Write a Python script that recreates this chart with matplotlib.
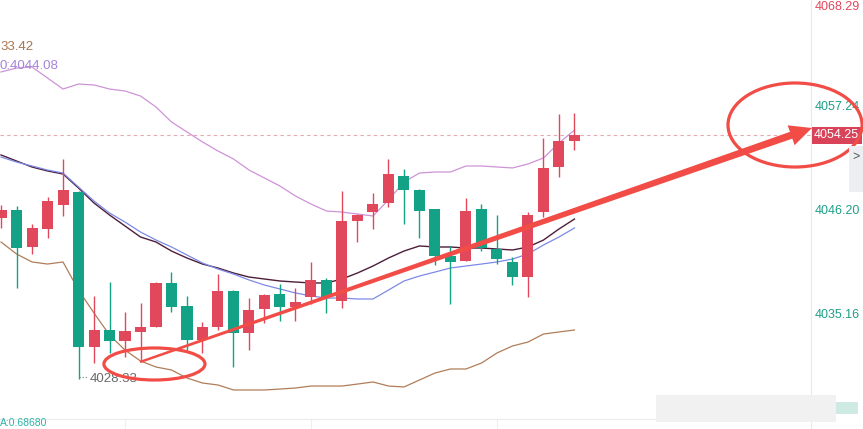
import numpy as np
import matplotlib
matplotlib.use("Agg")
import matplotlib.pyplot as plt
from matplotlib.patches import Ellipse, Polygon, Rectangle
from matplotlib.lines import Line2D
from matplotlib.transforms import IdentityTransform, blended_transform_factory

plt.rcParams['font.family'] = ['Liberation Sans', 'DejaVu Sans']

# candle data, red = up, green = down
opens = [4045.46, 4046.31, 4042.38, 4044.29, 4046.84, 4048.22, 4031.76, 4033.57, 4032.40, 4033.36,
         4033.89, 4038.56, 4036.12, 4032.51, 4033.89, 4037.71, 4033.25, 4035.80, 4037.39, 4036.01,
         4037.07, 4038.88, 4036.65, 4045.14, 4046.09, 4047.05, 4049.92, 4048.43, 4046.41, 4041.42,
         4040.89, 4046.41, 4042.17, 4040.79, 4039.19, 4046.09, 4050.87, 4053.63]
highs = [4046.84, 4046.73, 4044.82, 4047.69, 4051.72, 4048.30, 4037.18, 4038.66, 4035.48, 4036.43,
         4038.66, 4039.72, 4037.18, 4034.42, 4039.51, 4037.80, 4036.96, 4037.35, 4038.45, 4038.03,
         4040.79, 4039.09, 4048.32, 4045.85, 4048.11, 4051.72, 4050.66, 4048.50, 4046.45, 4042.49,
         4047.58, 4046.94, 4045.78, 4041.32, 4046.09, 4053.95, 4056.50, 4056.60]
lows = [4044.40, 4038.03, 4041.64, 4043.33, 4045.67, 4028.33, 4030.06, 4031.13, 4030.70, 4030.28,
        4033.89, 4035.48, 4031.44, 4031.13, 4033.57, 4029.64, 4031.44, 4034.31, 4034.52, 4034.52,
        4036.33, 4035.37, 4035.90, 4042.91, 4044.29, 4046.62, 4044.82, 4043.33, 4040.47, 4036.33,
        4040.85, 4041.95, 4040.57, 4038.34, 4037.07, 4045.56, 4049.81, 4052.68]
closes = [4046.31, 4042.27, 4044.40, 4047.26, 4048.43, 4031.76, 4033.57, 4032.40, 4033.46, 4033.89,
          4038.56, 4036.01, 4032.51, 4033.89, 4037.71, 4033.25, 4035.69, 4037.28, 4036.01, 4036.54,
          4038.88, 4037.07, 4045.14, 4045.78, 4046.94, 4050.13, 4048.43, 4046.20, 4041.42, 4040.79,
          4046.20, 4042.27, 4041.10, 4039.19, 4045.78, 4050.77, 4053.63, 4054.25]

# indicator lines
upper_band = [4060.96, 4061.38, 4061.49, 4060.32, 4059.15, 4059.68, 4059.58, 4059.15, 4058.94, 4058.41,
              4057.24, 4055.65, 4054.59, 4053.53, 4052.57, 4051.72, 4050.55, 4049.70, 4048.85, 4047.79,
              4046.94, 4046.20, 4046.09, 4045.88, 4045.67, 4047.37, 4049.28, 4050.23, 4050.34, 4050.34,
              4050.98, 4050.98, 4050.87, 4050.77, 4051.19, 4051.83, 4053.42, 4054.80]
lower_band = [4042.91, 4041.64, 4040.79, 4040.57, 4040.79, 4037.81, 4035.37, 4033.04, 4031.44, 4030.28,
              4029.64, 4029.32, 4028.47, 4027.94, 4027.73, 4027.20, 4027.20, 4027.20, 4027.30, 4027.41,
              4027.62, 4027.62, 4027.62, 4027.83, 4028.05, 4027.62, 4027.52, 4028.26, 4029.00, 4029.43,
              4029.43, 4030.06, 4031.13, 4031.87, 4032.29, 4033.14, 4033.36, 4033.57]
ma_dark = [4052.15, 4051.51, 4050.87, 4050.45, 4050.13, 4048.64, 4047.05, 4045.78, 4044.61, 4043.44,
           4042.91, 4041.95, 4041.21, 4040.57, 4040.15, 4039.62, 4039.19, 4038.98, 4038.77, 4038.66,
           4038.56, 4038.56, 4038.98, 4039.62, 4040.36, 4041.21, 4041.95, 4042.49, 4042.38, 4042.38,
           4042.27, 4042.27, 4042.17, 4042.06, 4042.38, 4043.12, 4044.29, 4045.35]
ma_blue = [4051.93, 4051.40, 4050.98, 4050.55, 4050.23, 4048.75, 4047.26, 4045.99, 4045.03, 4043.97,
           4043.12, 4042.38, 4041.53, 4040.68, 4040.04, 4039.51, 4038.88, 4038.34, 4037.92, 4037.50,
           4037.18, 4036.96, 4036.96, 4036.86, 4036.86, 4037.81, 4038.77, 4039.30, 4039.72, 4040.15,
           4040.36, 4040.57, 4040.79, 4041.10, 4041.64, 4042.59, 4043.44, 4044.40]

price_ticks = [4068.29, 4057.24, 4046.20, 4035.16]
last_price = 4054.25
low_label = "4028.33"

RED = '#e2485c'
GREEN = '#13a286'
MARK = '#f24c47'
FS = 9

W, H = 863, 429
fig = plt.figure(figsize=(W / 100, H / 100), dpi=100)
fig.patch.set_facecolor('white')


def fx(x):
    return x / W


def fy(y):
    return 1 - y / H


ax = fig.add_axes([0, fy(419), fx(811), 419 / H])
ax.set_xlim(-0.065, 52.26)
ax.set_ylim(4024.12, 4068.60)
ax.axis('off')

x = np.arange(len(opens))
o = np.array(opens)
c = np.array(closes)
up = c >= o
cols = [RED if u else GREEN for u in up]

# indicator lines
ax.plot(x, upper_band, color='#cf93d8', lw=0.9, zorder=2)
ax.plot(x, lower_band, color='#b07d5a', lw=0.9, zorder=2)
ax.plot(x, ma_dark, color='#4d1d3a', lw=1.0, zorder=2)
ax.plot(x, ma_blue, color='#7c8ae6', lw=0.9, zorder=2)

# candles
ax.vlines(x, lows, highs, colors=cols, lw=1.0, zorder=3)
bottoms = np.minimum(o, c)
heights = np.maximum(np.abs(c - o), 0.12)
ax.bar(x, heights, bottom=bottoms, width=0.71, color=cols, zorder=4)

# last price dashed line and label
ax.axhline(last_price, color='#e8a6b0', lw=0.8, ls=(0, (3, 3)), zorder=1)
tr = blended_transform_factory(ax.transAxes, ax.transData)
ax.text(1 + 3 / 811, last_price, f"{last_price:.2f}", transform=tr, color='white', fontsize=FS,
        va='center', ha='left', clip_on=False,
        bbox=dict(boxstyle='square,pad=0.2', fc='#d8435a', ec='none'))

# right price labels
for v in price_ticks:
    if v > 4068:
        ax.text(1 + 4 / 811, 1 - 1 / 419, f"{v:.2f}", transform=ax.transAxes, color=RED,
                fontsize=FS, va='top', ha='left', clip_on=False)
    else:
        ax.text(1 + 4 / 811, v, f"{v:.2f}", transform=tr, color='#1d9f86',
                fontsize=FS, va='center', ha='left', clip_on=False)

# lowest price marker
i_low = int(np.argmin(lows))
ax.plot([i_low + 0.05, i_low + 0.6], [lows[i_low] + 0.25] * 2, ls=(0, (1, 1.5)), color='#888888',
        lw=0.9, zorder=3)
ax.text(i_low + 0.72, lows[i_low], low_label, color='#6a6a6a', fontsize=FS + 0.5, va='center', ha='left')

# legend-ish texts top left (partly off the left edge in the original)
fig.text(0, fy(47), "33.42", color='#a97650', fontsize=FS + 0.5, ha='left', va='center')
fig.text(0, fy(66), "0:4044.08", color='#a584d8', fontsize=FS + 0.5, ha='left', va='center')

# ellipses
ax.add_patch(Ellipse((9.9, 4029.96), 6.52, 3.40, fill=False, ec=MARK, lw=2.3, zorder=8, clip_on=False))
ax.add_patch(Ellipse((51.23, 4055.33), 8.65, 8.92, fill=False, ec=MARK, lw=2.3, zorder=8, clip_on=False))

# tapered arrow, drawn in display pixels
p0 = ax.transData.transform((8.97, 4030.17))
p1 = ax.transData.transform((52.32, 4055.01))
d = p1 - p0
u = d / np.hypot(*d)
n = np.array([-u[1], u[0]])
base = p1 - u * 22
pts = [p0 + n * 1.2, base + n * 3.6, base + n * 10.5, p1,
       base - n * 10.5, base - n * 3.6, p0 - n * 1.2]
fig.add_artist(Polygon(pts, closed=True, transform=IdentityTransform(), fc=MARK, ec='none', zorder=10))

# panel separators
fig.add_artist(Line2D([fx(811), fx(811)], [0, 1], color='#e9e9ec', lw=0.8, zorder=0))
fig.add_artist(Line2D([0, fx(811)], [fy(419), fy(419)], color='#ececef', lw=0.8, zorder=0))
for gx in [125, 311, 497]:
    fig.add_artist(Line2D([fx(gx), fx(gx)], [0, fy(419)], color='#eeeeee', lw=0.8, zorder=0))
fig.text(0, fy(428.5), "A:0.68680", color='#2bb3a6', fontsize=7.5, ha='left', va='bottom')

# side button
fig.add_artist(Rectangle((fx(849), fy(192)), fx(14), 46 / H, fc='#eceef2', ec='none', zorder=1))
fig.text(fx(856), fy(157), ">", color='#555555', fontsize=9, ha='center', va='center')

# blurred watermark
fig.add_artist(Rectangle((fx(656), fy(422)), fx(180), 27 / H, fc='#f1f1f1', ec='none', zorder=1))
fig.add_artist(Rectangle((fx(836), fy(414)), fx(22), 12 / H, fc='#cfe9e3', ec='none', zorder=1))

fig.savefig('out.png', dpi=100, facecolor='white')
